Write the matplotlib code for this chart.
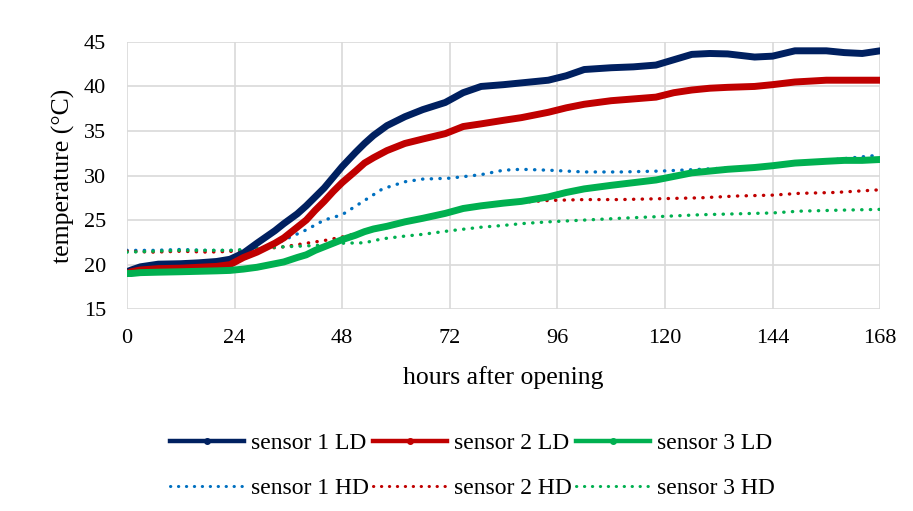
import matplotlib
matplotlib.use("Agg")
import matplotlib.pyplot as plt
from matplotlib.lines import Line2D

plt.rcParams['font.family'] = ['Liberation Serif', 'DejaVu Serif']

# hours after opening and readings per sensor (LD = thick lines, HD = dotted)
hours_ld = [0, 1, 3, 7, 12, 16, 20, 23, 26, 29, 31, 33, 35, 38, 40, 42, 44, 46, 48, 51, 53, 55, 58, 62, 66, 71,
            75, 79, 84, 88, 94, 98, 102, 108, 113, 118, 122, 126, 130, 134, 140, 144, 149, 156, 160, 164, 168]
s1_ld = [19.2, 19.4, 19.75, 20.05, 20.1, 20.2, 20.35, 20.6, 21.3, 22.4, 23.1, 23.8, 24.6, 25.7, 26.6, 27.6,
         28.6, 29.8, 31.0, 32.6, 33.6, 34.5, 35.6, 36.6, 37.4, 38.2, 39.3, 40.0, 40.2, 40.4, 40.7, 41.2, 41.9,
         42.1, 42.2, 42.4, 43.0, 43.6, 43.7, 43.65, 43.3, 43.4, 44.0, 44.0, 43.8, 43.7, 44.0]
s2_ld = [19.0, 19.2, 19.4, 19.55, 19.6, 19.7, 19.8, 20.0, 20.8, 21.4, 21.9, 22.4, 23.0, 24.2, 25.0, 26.1,
         27.1, 28.2, 29.2, 30.5, 31.4, 32.0, 32.8, 33.6, 34.1, 34.7, 35.5, 35.8, 36.2, 36.5, 37.1, 37.6, 38.0,
         38.4, 38.6, 38.8, 39.3, 39.6, 39.8, 39.9, 40.0, 40.2, 40.5, 40.7, 40.7, 40.7, 40.7]
s3_ld = [19.0, 19.0, 19.1, 19.15, 19.2, 19.25, 19.3, 19.35, 19.5, 19.7, 19.9, 20.1, 20.3, 20.8, 21.1, 21.6,
         22.0, 22.4, 22.8, 23.3, 23.7, 24.0, 24.3, 24.8, 25.2, 25.75, 26.3, 26.6, 26.9, 27.1, 27.6, 28.1, 28.5,
         28.9, 29.2, 29.5, 29.9, 30.3, 30.5, 30.7, 30.9, 31.1, 31.4, 31.6, 31.7, 31.7, 31.8]

hours_hd = [0, 6, 12, 18, 24, 28, 31, 35, 40, 44, 48, 53, 57, 62, 66, 72, 79, 84, 88, 94, 102, 110, 119, 128,
            136, 144, 150, 158, 168]
s1_hd = [21.6, 21.6, 21.7, 21.6, 21.6, 21.7, 21.8, 22.75, 23.9, 25.0, 25.6, 27.2, 28.5, 29.3, 29.6, 29.7,
         30.1, 30.6, 30.7, 30.6, 30.4, 30.4, 30.5, 30.7, 30.9, 31.1, 31.4, 31.8, 32.3]
s2_hd = [21.5, 21.4, 21.5, 21.4, 21.5, 21.6, 21.8, 22.0, 22.4, 22.7, 23.1, 23.7, 24.2, 24.8, 25.2, 25.9,
         26.5, 26.8, 27.0, 27.2, 27.3, 27.3, 27.4, 27.5, 27.7, 27.8, 28.0, 28.1, 28.4]
s3_hd = [21.4, 21.5, 21.6, 21.6, 21.6, 21.8, 21.9, 22.0, 22.1, 22.2, 22.4, 22.45, 22.9, 23.2, 23.4, 23.8,
         24.2, 24.4, 24.6, 24.8, 25.0, 25.2, 25.4, 25.6, 25.7, 25.8, 26.0, 26.1, 26.2]

c_navy, c_red, c_green, c_blue = '#002060', '#C00000', '#00B050', '#0070C0'

fig = plt.figure(figsize=(9.13, 5.11), dpi=100)
ax = fig.add_axes([0.139, 0.395, 0.825, 0.523])

dot = (0, (0.1, 2.5))
ax.plot(hours_hd, s1_hd, color=c_blue, lw=2.4, ls=dot, dash_capstyle='round')
ax.plot(hours_hd, s2_hd, color=c_red, lw=2.4, ls=dot, dash_capstyle='round')
ax.plot(hours_hd, s3_hd, color=c_green, lw=2.4, ls=dot, dash_capstyle='round')

for y, c in ((s1_ld, c_navy), (s2_ld, c_red), (s3_ld, c_green)):
    ax.plot(hours_ld, y, color=c, lw=5, solid_capstyle='round', solid_joinstyle='round', zorder=3)

ax.set_xlim(0, 168)
ax.set_ylim(15, 45)
ax.set_xticks(range(0, 169, 24))
ax.set_yticks(range(15, 46, 5))
ax.grid(True, color='#D9D9D9', lw=1.2)
ax.set_axisbelow(True)
for s in ax.spines.values():
    s.set_visible(False)
ax.tick_params(axis='x', length=0, labelsize=16, pad=14)
ax.tick_params(axis='y', length=0, labelsize=16, pad=15)
ax.set_xlabel('hours after opening', fontsize=18.5, labelpad=13)
ax.set_ylabel('temperature (°C)', fontsize=18.5, labelpad=6)

# legend: LD entries on the first row, HD entries on the second
def ld_handle(c, lab):
    return Line2D([], [], color=c, lw=3.2, marker='o', ms=4, label=lab)

def hd_handle(c, lab):
    return Line2D([], [], color=c, lw=2.2, ls=dot, dash_capstyle='round', label=lab)

handles = [ld_handle(c_navy, 'sensor 1 LD'), hd_handle(c_blue, 'sensor 1 HD'),
           ld_handle(c_red, 'sensor 2 LD'), hd_handle(c_red, 'sensor 2 HD'),
           ld_handle(c_green, 'sensor 3 LD'), hd_handle(c_green, 'sensor 3 HD')]
fig.legend(handles=handles, ncol=3, loc='center', bbox_to_anchor=(0.5175, 0.088),
           frameon=False, fontsize=17, handlelength=3.1, handletextpad=0.3,
           columnspacing=0.2, labelspacing=1.0, numpoints=1)

fig.savefig('out.png', dpi=100)
